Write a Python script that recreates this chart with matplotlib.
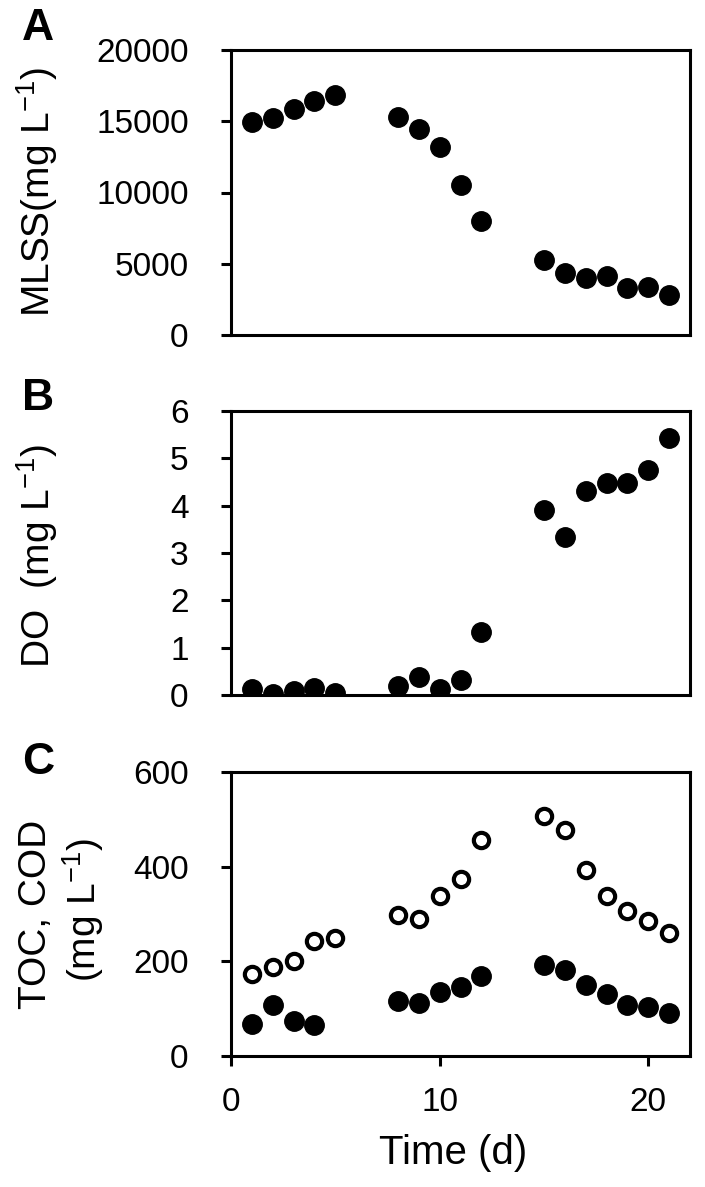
# Three stacked scatter panels: MLSS, DO and TOC/COD over time

import matplotlib.pyplot as plt
import numpy as np

plt.rcParams['font.family'] = ['Liberation Sans', 'DejaVu Sans']
plt.rcParams['mathtext.fontset'] = 'custom'
plt.rcParams['mathtext.rm'] = 'Liberation Sans'
plt.rcParams['mathtext.it'] = 'Liberation Sans:italic'
plt.rcParams['mathtext.bf'] = 'Liberation Sans:bold'

# Data
days = [1, 2, 3, 4, 5, 8, 9, 10, 11, 12, 15, 16, 17, 18, 19, 20, 21]
mlss = [14930, 15260, 15850, 16390, 16840, 15330, 14430, 13200, 10540, 7970,
        5240, 4320, 4010, 4130, 3300, 3350, 2830]
do_vals = [0.13, 0.03, 0.09, 0.15, 0.04, 0.18, 0.37, 0.13, 0.32, 1.33,
           3.90, 3.34, 4.30, 4.48, 4.48, 4.75, 5.42]
cod = [174, 188, 201, 244, 250, 297, 290, 337, 373, 456,
       508, 478, 394, 338, 306, 285, 260]
toc_days = [1, 2, 3, 4, 8, 9, 10, 11, 12, 15, 16, 17, 18, 19, 20, 21]
toc = [68, 107, 73, 66, 116, 111, 135, 146, 170,
       192, 182, 149, 130, 107, 104, 91]

W, H = 705, 1187

def px_axes(fig, x0, x1, y0, y1):
    # axes from pixel edges (top-left origin)
    return fig.add_axes([x0 / W, 1 - y1 / H, (x1 - x0) / W, (y1 - y0) / H])

fig = plt.figure(figsize=(W / 100, H / 100), dpi=100)

axA = px_axes(fig, 231, 690, 50, 335)
axB = px_axes(fig, 231, 690, 411, 695)
axC = px_axes(fig, 231, 690, 772, 1056)

# Marker styles
filled = dict(marker='o', linestyle='none', color='black', markersize=14)
hollow = dict(marker='o', linestyle='none', markerfacecolor='white',
              markeredgecolor='black', markersize=11, markeredgewidth=3)

axA.plot(days, mlss, **filled)
axB.plot(days, do_vals, **filled)
axC.plot(days, cod, **hollow)
axC.plot(toc_days, toc, **filled)

axA.set_ylim(0, 20000)
axA.set_yticks(np.arange(0, 20001, 5000))
axB.set_ylim(0, 6)
axB.set_yticks(np.arange(0, 7, 1))
axC.set_ylim(0, 600)
axC.set_yticks(np.arange(0, 601, 200))

for ax in (axA, axB, axC):
    ax.set_xlim(0, 22)
    for s in ax.spines.values():
        s.set_linewidth(2.2)
    ax.tick_params(axis='y', direction='out', length=7.5, width=2.2,
                   labelsize=24, pad=23)
    ax.tick_params(axis='x', direction='out', length=7.5, width=2.2,
                   labelsize=24, pad=15)

# Only the bottom panel has x ticks
for ax in (axA, axB):
    ax.set_xticks([])
axC.set_xticks([0, 10, 20])

# Axis labels
fig.text(37 / W, 1 - 192 / H, r'MLSS(mg L$^{-1}$)', rotation=90,
         ha='center', va='center', fontsize=28)
fig.text(37 / W, 1 - 556 / H, r'DO  (mg L$^{-1}$)', rotation=90,
         ha='center', va='center', fontsize=28)
fig.text(36 / W, 1 - 914 / H, 'TOC, COD', rotation=90,
         ha='center', va='center', fontsize=28)
fig.text(83 / W, 1 - 910 / H, r'(mg L$^{-1}$)', rotation=90,
         ha='center', va='center', fontsize=28)
fig.text(453 / W, 1 - 1153 / H, 'Time (d)', ha='center', va='center',
         fontsize=29)

# Panel letters
for letter, yc in (('A', 29), ('B', 398), ('C', 763)):
    fig.text(38 / W, 1 - yc / H, letter, ha='center', va='center',
             fontsize=32, fontweight='bold')

plt.savefig('out.png', dpi=100)
plt.close()
